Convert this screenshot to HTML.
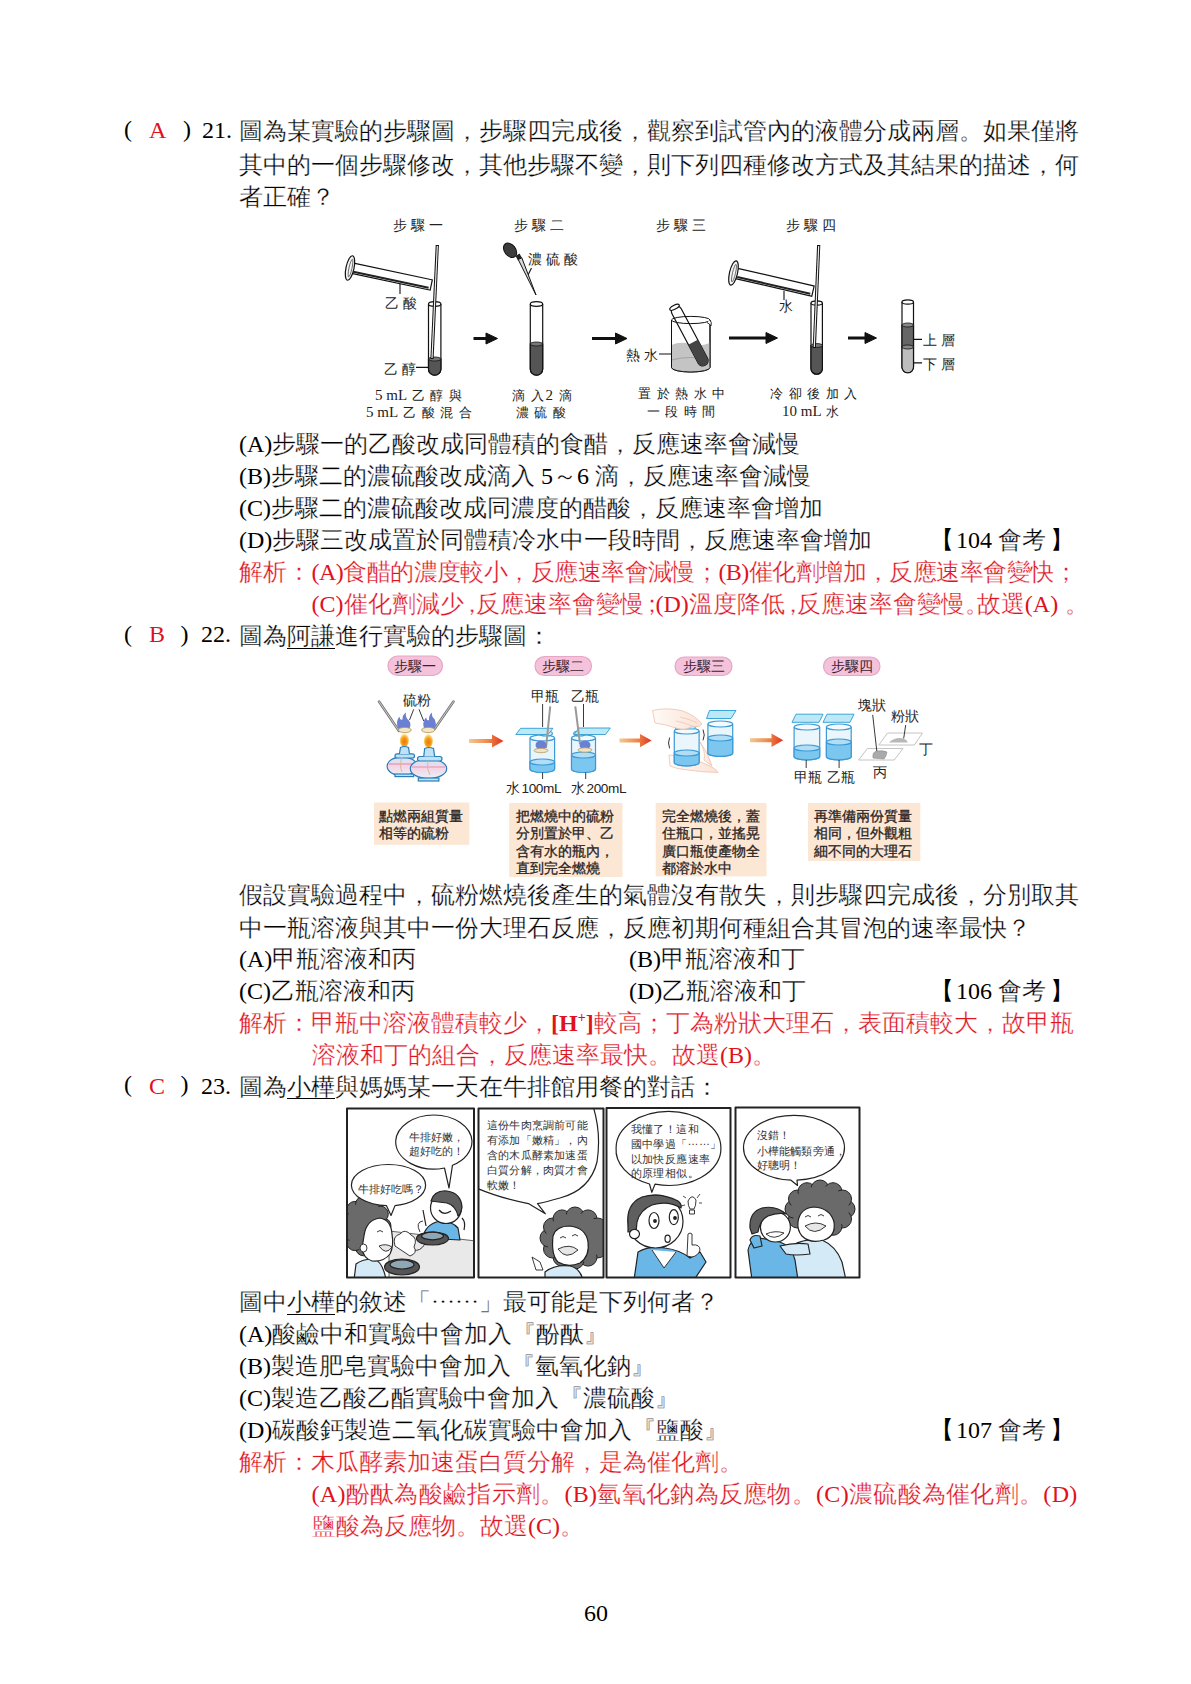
<!DOCTYPE html>
<html lang="zh-Hant">
<head>
<meta charset="utf-8">
<style>
html,body{margin:0;padding:0;background:#fff;}
body{width:1191px;height:1684px;position:relative;overflow:hidden;font-family:"Liberation Serif",serif;color:#000;}
.l{position:absolute;white-space:nowrap;font-size:24px;line-height:32px;height:32px;-webkit-text-stroke:0.3px #fff;}
.lt{-webkit-text-stroke:0;}
.r{color:#e0121e;}
.u{}
.ul{position:absolute;height:1.3px;background:#000;}
.fig{position:absolute;}
.h{display:inline-block;width:12px;text-indent:-3.5px;}
.h0{display:inline-block;width:12px;}
sup{font-size:14px;vertical-align:0;position:relative;top:-9px;line-height:0;}
.md{position:relative;top:-7px;}
</style>
</head>
<body>
<!-- Q21 -->
<div class="l" style="left:124px;top:112.5px;"><span class="lt">(</span></div>
<div class="l r" style="left:149px;top:113.5px;"><span class="lt">A</span></div>
<div class="l" style="left:183px;top:112.5px;"><span class="lt">)</span></div>
<div class="l" style="left:202px;top:113.5px;"><span class="lt">21.</span></div>
<div class="l" style="left:239px;top:115px;">圖為某實驗的步驟圖，步驟四完成後，觀察到試管內的液體分成兩層。如果僅將</div>
<div class="l" style="left:239px;top:149px;">其中的一個步驟修改，其他步驟不變，則下列四種修改方式及其結果的描述，何</div>
<div class="l" style="left:239px;top:181px;">者正確？</div>

<div class="l" style="left:239px;top:428px;"><span class="lt">(A)</span>步驟一的乙酸改成同體積的食醋，反應速率會減慢</div>
<div class="l" style="left:239px;top:460px;"><span class="lt">(B)</span>步驟二的濃硫酸改成滴入 <span class="lt">5</span>～<span class="lt">6 </span>滴，反應速率會減慢</div>
<div class="l" style="left:239px;top:492px;"><span class="lt">(C)</span>步驟二的濃硫酸改成同濃度的醋酸，反應速率會增加</div>
<div class="l" style="left:239px;top:524px;"><span class="lt">(D)</span>步驟三改成置於同體積冷水中一段時間，反應速率會增加</div>
<div class="l" style="left:930px;top:524px;"><span class="lt">【</span></div><div class="l" style="left:956px;top:524px;"><span class="lt">104 </span>會考</div><div class="l" style="left:1050px;top:524px;"><span class="lt">】</span></div>
<div class="l r" style="left:239px;top:556px;">解析：</div>
<div class="l r" style="left:311.5px;top:556px;letter-spacing:-0.55px;"><span class="lt">(A)</span>食醋的濃度較小，反應速率會減慢；<span class="lt">(B)</span>催化劑增加，反應速率會變快；</div>
<div class="l r" style="left:311.5px;top:588px;"><span class="lt">(C)</span>催化劑減少<span class="h">，</span>反應速率會變慢<span class="h">；</span><span class="lt">(D)</span>溫度降低<span class="h">，</span>反應速率會變慢<span class="h0">。</span>故選<span class="lt">(A)</span><span class="h0" style="position:relative;left:7px">。</span></div>

<!-- Q22 -->
<div class="l" style="left:124px;top:617.5px;"><span class="lt">(</span></div>
<div class="l r" style="left:149px;top:618px;"><span class="lt">B</span></div>
<div class="l" style="left:180.5px;top:617.5px;"><span class="lt">)</span></div>
<div class="l" style="left:201px;top:618px;"><span class="lt">22.</span></div>
<div class="l" style="left:239px;top:620px;">圖為<span class="u">阿謙</span>進行實驗的步驟圖：</div>

<div class="l" style="left:239px;top:879px;">假設實驗過程中，硫粉燃燒後產生的氣體沒有散失，則步驟四完成後，分別取其</div>
<div class="l" style="left:239px;top:912px;">中一瓶溶液與其中一份大理石反應，反應初期何種組合其冒泡的速率最快？</div>
<div class="l" style="left:239px;top:943px;"><span class="lt">(A)</span>甲瓶溶液和丙</div>
<div class="l" style="left:629px;top:943px;"><span class="lt">(B)</span>甲瓶溶液和丁</div>
<div class="l" style="left:239px;top:975px;"><span class="lt">(C)</span>乙瓶溶液和丙</div>
<div class="l" style="left:629px;top:975px;"><span class="lt">(D)</span>乙瓶溶液和丁</div>
<div class="l" style="left:930px;top:975px;"><span class="lt">【</span></div><div class="l" style="left:956px;top:975px;"><span class="lt">106 </span>會考</div><div class="l" style="left:1050px;top:975px;"><span class="lt">】</span></div>
<div class="l r" style="left:239px;top:1007px;">解析：甲瓶中溶液體積較少，<b><span class="lt">[H</span><sup><span class="lt">+</span></sup><span class="lt">]</span></b>較高；丁為粉狀大理石，表面積較大，故甲瓶</div>
<div class="l r" style="left:312px;top:1039px;">溶液和丁的組合，反應速率最快。故選<span class="lt">(B)</span>。</div>

<!-- Q23 -->
<div class="l" style="left:124px;top:1068px;"><span class="lt">(</span></div>
<div class="l r" style="left:149px;top:1069.5px;"><span class="lt">C</span></div>
<div class="l" style="left:180.5px;top:1068px;"><span class="lt">)</span></div>
<div class="l" style="left:201px;top:1069.5px;"><span class="lt">23.</span></div>
<div class="l" style="left:239px;top:1071px;">圖為<span class="u">小樺</span>與媽媽某一天在牛排館用餐的對話：</div>

<div class="l" style="left:239px;top:1286px;">圖中<span class="u">小樺</span>的敘述「<span class="md">……</span>」最可能是下列何者？</div>
<div class="l" style="left:239px;top:1318px;"><span class="lt">(A)</span>酸鹼中和實驗中會加入『酚酞』</div>
<div class="l" style="left:239px;top:1350px;"><span class="lt">(B)</span>製造肥皂實驗中會加入『氫氧化鈉』</div>
<div class="l" style="left:239px;top:1382px;"><span class="lt">(C)</span>製造乙酸乙酯實驗中會加入『濃硫酸』</div>
<div class="l" style="left:239px;top:1414px;"><span class="lt">(D)</span>碳酸鈣製造二氧化碳實驗中會加入『鹽酸』</div>
<div class="l" style="left:930px;top:1414px;"><span class="lt">【</span></div><div class="l" style="left:956px;top:1414px;"><span class="lt">107 </span>會考</div><div class="l" style="left:1050px;top:1414px;"><span class="lt">】</span></div>
<div class="l r" style="left:239px;top:1446px;">解析：木瓜酵素加速蛋白質分解，是為催化劑。</div>
<div class="l r" style="left:311.5px;top:1478px;letter-spacing:0.3px;"><span class="lt">(A)</span>酚酞為酸鹼指示劑。<span class="lt">(B)</span>氫氧化鈉為反應物。<span class="lt">(C)</span>濃硫酸為催化劑。<span class="lt">(D)</span></div>
<div class="l r" style="left:312px;top:1510px;">鹽酸為反應物。故選<span class="lt">(C)</span>。</div>

<div class="l" style="left:584px;top:1597px;"><span class="lt">60</span></div>
<div class="ul" style="left:287px;top:647.9px;width:48px"></div>
<div class="ul" style="left:287px;top:1098.2px;width:48px"></div>
<div class="ul" style="left:287px;top:1313.7px;width:48px"></div>
<!-- FIG1 -->
<svg class="fig" style="left:0;top:0" width="1191" height="1684" viewBox="0 0 1191 1684">
<defs>
<marker id="ah" viewBox="0 0 10 10" refX="9" refY="5" markerWidth="4" markerHeight="4" orient="auto"><path d="M0,0 L10,5 L0,10 z" fill="#111"/></marker>
</defs>
<g font-family="Liberation Serif, serif" font-size="13.5" fill="#222" letter-spacing="4">
<text x="393" y="229.5">步驟一</text>
<text x="514" y="229.5">步驟二</text>
<text x="656" y="229.5">步驟三</text>
<text x="786" y="229.5">步驟四</text>
<text x="385" y="307.5">乙酸</text>
<text x="384" y="374">乙醇</text>
<text x="528" y="264">濃硫酸</text>
<text x="626" y="359.5">熱水</text>
<text x="779" y="311" letter-spacing="0">水</text>
<text x="923" y="345">上層</text>
<text x="923" y="368.5">下層</text>
</g>
<g font-family="Liberation Serif, serif" font-size="13.2" fill="#222" letter-spacing="5.6">
<text x="375" y="399.5"><tspan font-size="15" letter-spacing="0">5 mL </tspan><tspan dx="1.5">乙醇與</tspan></text>
<text x="366" y="416.5"><tspan font-size="15" letter-spacing="0">5 mL </tspan><tspan dx="2">乙酸混合</tspan></text>
<text x="512" y="399.5">滴<tspan letter-spacing="2">入</tspan><tspan font-size="15" letter-spacing="0">2</tspan><tspan dx="6">滴</tspan></text>
<text x="515.5" y="416.5">濃硫酸</text>
<text x="638" y="398">置於熱水中</text>
<text x="646.5" y="415.5">一段時間</text>
<text x="770" y="398">冷卻後加入</text>
<text x="782" y="415.5"><tspan font-size="15" letter-spacing="0">10 mL </tspan><tspan dx="1">水</tspan></text>
</g>
<g stroke="#111" stroke-width="1.1" fill="none">
<!-- leader lines -->
<path d="M400,284 V294 M416,367.4 H428 M527.5,276 L531.5,268 M659,354 H673 M784,291 V300 M913,339.4 H922 M913,362.9 H922"/>
</g>
<!-- arrows -->
<g stroke="#111" stroke-width="3" fill="#111">
<path d="M473.5,338.5 H489"/><path d="M486,333 L497.5,338.5 L486,344 z" stroke-width="1"/>
<path d="M592,338.5 H618"/><path d="M615.5,333 L627,338.5 L615.5,344 z" stroke-width="1"/>
<path d="M729,338 H768"/><path d="M766,332.5 L777.5,338 L766,343.5 z" stroke-width="1"/>
<path d="M848,338 H867"/><path d="M865,332.5 L876.5,338 L865,343.5 z" stroke-width="1"/>
</g>
<!-- step1 cylinder -->
<g transform="rotate(12 350 268)">
<rect x="352" y="262.5" width="81" height="10.5" fill="#fff" stroke="#111" stroke-width="1.2"/>
<path d="M354,271 H431" stroke="#222" stroke-width="2"/>
<ellipse cx="350" cy="268" rx="4" ry="12.5" fill="#f4f4f4" stroke="#111" stroke-width="1.2"/>
<ellipse cx="350.5" cy="268" rx="1.5" ry="9" fill="none" stroke="#555" stroke-width="0.8"/>
</g>
<!-- step1 tube -->
<path d="M428.5,304 V369 A6.2,6.2 0 0 0 440.9,369 V304" fill="#fff" stroke="#111" stroke-width="1.2"/>
<path d="M428.5,359 V369 A6.2,6.2 0 0 0 440.9,369 V359 z" fill="#555" stroke="#111" stroke-width="1.2"/>
<ellipse cx="434.7" cy="359" rx="6.2" ry="2" fill="#777" stroke="#111" stroke-width="0.8"/>
<ellipse cx="434.7" cy="304" rx="6.2" ry="2.3" fill="#fff" stroke="#111" stroke-width="1.2"/>
<!-- step1 rod -->
<path d="M437.3,245 L432,359" stroke="#111" stroke-width="3.2"/>
<path d="M437.3,246 L432,358" stroke="#eee" stroke-width="1.2"/>
<!-- step2 dropper -->
<g transform="rotate(-38 511 251.5)">
<ellipse cx="511" cy="250" rx="5.6" ry="8" fill="#3c3c3c" stroke="#111" stroke-width="1"/>
</g>
<path d="M515.5,256 L519.5,253.5 L522,258 L518,260.5 z" fill="#222"/>
<path d="M518.2,259.5 L521.8,257.8 L536,295 z" fill="#d8d8d8" stroke="#111" stroke-width="1" stroke-linejoin="round"/>
<!-- step2 tube -->
<path d="M530.3,304 V369 A6.2,6.2 0 0 0 542.7,369 V304" fill="#fff" stroke="#111" stroke-width="1.2"/>
<path d="M530.3,344 V369 A6.2,6.2 0 0 0 542.7,369 V344 z" fill="#555" stroke="#111" stroke-width="1.2"/>
<ellipse cx="536.5" cy="344" rx="6.2" ry="2" fill="#777" stroke="#111" stroke-width="0.8"/>
<ellipse cx="536.5" cy="304" rx="6.2" ry="2.3" fill="#fff" stroke="#111" stroke-width="1.2"/>
<!-- step3 beaker -->
<path d="M671.5,320 V367.5 A19.25,4.5 0 0 0 710,367.5 V320" fill="#fff" stroke="#111" stroke-width="1"/>
<path d="M671.5,345 Q680,341 690,344 Q700,347 710,343 V367.5 A19.25,4.5 0 0 1 671.5,367.5 z" fill="#c4c4c4"/>
<path d="M671.5,360 Q690,355 710,360" stroke="#999" stroke-width="0.8" fill="none"/>
<path d="M671.5,320 V367.5 A19.25,4.5 0 0 0 710,367.5 V320" fill="none" stroke="#111" stroke-width="1"/>
<ellipse cx="690.75" cy="320" rx="19.25" ry="3.6" fill="none" stroke="#111" stroke-width="1"/>
<path d="M707,322.5 Q710,324 711,326 Q712,322 710,320" stroke="#111" stroke-width="0.9" fill="#fff"/>
<g transform="rotate(-28 690 337)">
<rect x="685" y="303" width="10.5" height="66" rx="5" fill="none" stroke="#111" stroke-width="1.2"/>
<path d="M685,343 H695.5 V364 A5.25,5.25 0 0 1 685,364 z" fill="#444"/>
<ellipse cx="690.25" cy="303.5" rx="5.25" ry="2" fill="#fff" stroke="#111" stroke-width="1.2"/>
</g>
<!-- step4 cylinder -->
<g transform="rotate(13 733.5 273)">
<rect x="736" y="267.5" width="79" height="10.5" fill="#fff" stroke="#111" stroke-width="1.2"/>
<path d="M738,276 H813" stroke="#222" stroke-width="2"/>
<ellipse cx="733.5" cy="273" rx="4" ry="12.5" fill="#f4f4f4" stroke="#111" stroke-width="1.2"/>
<ellipse cx="734" cy="273" rx="1.5" ry="9" fill="none" stroke="#555" stroke-width="0.8"/>
</g>
<!-- step4 tube -->
<path d="M811,303 V368.5 A5.7,5.7 0 0 0 822.4,368.5 V303" fill="#fff" stroke="#111" stroke-width="1.2"/>
<path d="M811,345.5 V368.5 A5.7,5.7 0 0 0 822.4,368.5 V345.5 z" fill="#555" stroke="#111" stroke-width="1.2"/>
<ellipse cx="816.7" cy="345.5" rx="5.7" ry="2" fill="#777" stroke="#111" stroke-width="0.8"/>
<ellipse cx="816.7" cy="303" rx="5.7" ry="2.2" fill="#fff" stroke="#111" stroke-width="1.2"/>
<path d="M818.7,245 L814.3,348" stroke="#111" stroke-width="3.2"/>
<path d="M818.7,246 L814.3,347" stroke="#eee" stroke-width="1.2"/>
<!-- result tube -->
<path d="M902,302 V367 A5.75,5.75 0 0 0 913.5,367 V302" fill="#fff" stroke="#111" stroke-width="1.2"/>
<path d="M902,347 V367 A5.75,5.75 0 0 0 913.5,367 V347 z" fill="#bdbdbd" stroke="#111" stroke-width="1.2"/>
<path d="M902,325 V347 H913.5 V325 z" fill="#666" stroke="#111" stroke-width="1.2"/>
<ellipse cx="907.75" cy="325" rx="5.75" ry="2" fill="#888" stroke="#111" stroke-width="0.8"/>
<ellipse cx="907.75" cy="347" rx="5.75" ry="2" fill="#888" stroke="#111" stroke-width="0.8"/>
<ellipse cx="907.75" cy="302" rx="5.75" ry="2.2" fill="#fff" stroke="#111" stroke-width="1.2"/>
</svg>

<!-- FIG2 -->
<svg class="fig" style="left:0;top:0" width="1191" height="1684" viewBox="0 0 1191 1684">
<defs>
<linearGradient id="arr" x1="0" x2="1" y1="0" y2="0"><stop offset="0" stop-color="#f3c894"/><stop offset="0.55" stop-color="#ec8a4a"/><stop offset="1" stop-color="#e2321e"/></linearGradient>
<linearGradient id="lamp" x1="0" x2="0" y1="0" y2="1"><stop offset="0" stop-color="#cfe9f8"/><stop offset="0.5" stop-color="#f6d4e4"/><stop offset="1" stop-color="#e6f3fb"/></linearGradient>
<radialGradient id="flame" cx="0.5" cy="0.6" r="0.55"><stop offset="0" stop-color="#e8760c"/><stop offset="0.6" stop-color="#f6a21a"/><stop offset="1" stop-color="#fde7a6"/></radialGradient>
<linearGradient id="skin" x1="0" x2="1" y1="0" y2="0"><stop offset="0" stop-color="#fffaf7"/><stop offset="1" stop-color="#fbe2d4"/></linearGradient>
</defs>
<!-- pills -->
<g fill="#f4c2da" stroke="#e7a6c4" stroke-width="1.2">
<rect x="388" y="656" width="54.5" height="19.5" rx="9.75"/>
<rect x="535" y="656.5" width="56.5" height="19" rx="9.5"/>
<rect x="675" y="657" width="57" height="18.5" rx="9.25"/>
<rect x="823.5" y="657" width="56.5" height="18.5" rx="9.25"/>
</g>
<g font-family="Liberation Sans, sans-serif" font-size="13.5" fill="#3a2230">
<text x="393.5" y="670.5">步驟一</text>
<text x="541.5" y="670.8">步驟二</text>
<text x="683" y="671">步驟三</text>
<text x="831" y="671">步驟四</text>
</g>
<!-- beige boxes -->
<g fill="#fbe7d4">
<rect x="374" y="802.5" width="95.3" height="42.3"/>
<rect x="509.2" y="803" width="113.3" height="74"/>
<rect x="655.7" y="803" width="110.8" height="73.4"/>
<rect x="808" y="803" width="112.3" height="58"/>
</g>
<g font-family="Liberation Sans, sans-serif" font-size="14.2" fill="#2a241f" stroke="#2a241f" stroke-width="0.3">
<text x="379" y="820.5">點燃兩組質量</text>
<text x="379" y="838">相等的硫粉</text>
<text x="515.5" y="820.8">把燃燒中的硫粉</text>
<text x="515.5" y="838.3">分別置於甲、乙</text>
<text x="515.5" y="855.8">含有水的瓶內，</text>
<text x="515.5" y="873.3">直到完全燃燒</text>
<text x="661.5" y="820.8">完全燃燒後，蓋</text>
<text x="661.5" y="838.3">住瓶口，並搖晃</text>
<text x="661.5" y="855.8">廣口瓶使產物全</text>
<text x="661.5" y="873.3">都溶於水中</text>
<text x="814" y="820.8">再準備兩份質量</text>
<text x="814" y="838.3">相同，但外觀粗</text>
<text x="814" y="855.8">細不同的大理石</text>
</g>
<!-- labels -->
<g font-family="Liberation Sans, sans-serif" font-size="14" fill="#222">
<text x="403" y="704.5">硫粉</text>
<text x="530.5" y="700.5">甲瓶</text>
<text x="571" y="700.5">乙瓶</text>
<text x="506" y="792.5">水<tspan font-size="13.6" dx="1.5" letter-spacing="-0.4">100mL</tspan></text>
<text x="571" y="792.5">水<tspan font-size="13.6" dx="1.5" letter-spacing="-0.4">200mL</tspan></text>
<text x="794" y="781.5">甲瓶</text>
<text x="826.5" y="781.5">乙瓶</text>
<text x="858" y="709.5">塊狀</text>
<text x="890.5" y="720.5">粉狀</text>
<text x="919" y="754">丁</text>
<text x="873" y="777">丙</text>
</g>
<!-- arrows -->
<g fill="url(#arr)">
<path d="M469,739 H492 V734.5 L503.5,741 L492,747.5 V743 H469 z"/>
<path d="M619.5,738.6 H640 V734 L651.6,740.6 L640,747.2 V742.6 H619.5 z"/>
<path d="M750,738.3 H771.5 V733.6 L783.2,740.3 L771.5,747 V742.3 H750 z"/>
</g>
<!-- step1 spoons and lamps -->
<g stroke-linecap="round">
<path d="M379,701.5 L399,731" stroke="#777" stroke-width="2.6"/>
<path d="M379,701.5 L399,731" stroke="#ccc" stroke-width="1"/>
<path d="M453.5,701.5 L434.5,729" stroke="#777" stroke-width="2.6"/>
<path d="M453.5,701.5 L434.5,729" stroke="#ccc" stroke-width="1"/>
</g>
<path d="M398,728.5 Q395.5,721 399.5,716.5 Q400,720.5 402.5,719.5 Q402,715 406,712.5 Q405,717.5 409,720.5 Q411.5,724.5 409.5,728.5 z" fill="#6b80d2"/>
<path d="M424,728.5 Q422,722 426,717.5 Q427,721 429,720 Q428.5,715.5 432,712.5 Q431.5,717 434.5,719 Q437,724 435,728.5 z" fill="#6b80d2"/>
<ellipse cx="404.8" cy="730" rx="6.4" ry="2.6" fill="#f1e6c8" stroke="#b89a60" stroke-width="0.9"/>
<ellipse cx="428.2" cy="730" rx="6.6" ry="2.6" fill="#f1e6c8" stroke="#b89a60" stroke-width="0.9"/>
<path d="M413.7,709.3 L409.5,720 M419,709.3 L423.7,721" stroke="#222" stroke-width="0.9"/>
<ellipse cx="404.4" cy="740.3" rx="4.6" ry="6.8" fill="url(#flame)"/>
<ellipse cx="428.4" cy="740.8" rx="4.6" ry="6.8" fill="url(#flame)"/>
<!-- lamp1 -->
<g stroke="#2b7db9" stroke-width="1.2">
<ellipse cx="402.1" cy="766.3" rx="15" ry="9.5" fill="url(#lamp)"/>
<rect x="395" y="774" width="18.7" height="2.6" fill="#bfe2f6"/>
<rect x="395" y="753.8" width="19.5" height="4.2" rx="2" fill="#bfe2f6"/>
<path d="M399.4,754 L400.5,747.5 Q404.5,745.5 408.5,747.5 L409.5,754" fill="#bfe2f6"/>
</g>
<path d="M389,764 H415" stroke="#e58fb4" stroke-width="1.2"/>
<!-- lamp2 -->
<g stroke="#2b7db9" stroke-width="1.2">
<ellipse cx="428.5" cy="768.7" rx="18.2" ry="9.8" fill="url(#lamp)"/>
<rect x="418.3" y="778" width="20.6" height="3" fill="#bfe2f6"/>
<rect x="417.5" y="756.5" width="24.5" height="4.5" rx="2.2" fill="#bfe2f6"/>
<path d="M423.7,756.6 L424.7,748.5 Q429,746.5 433.5,748.5 L434.7,756.6" fill="#bfe2f6"/>
</g>
<path d="M412,767 H445" stroke="#e58fb4" stroke-width="1.2"/>
<path d="M402,757 Q399,766 402,772 M428,761 Q426,768 430,775" stroke="#d8b8a0" stroke-width="1" fill="none"/>
<!-- jars generic -->
<g stroke="#3b9ad6" stroke-width="1.2">
<!-- step2 jar1 -->
<path d="M530,738 V769 A12.3,3.5 0 0 0 554.6,769 V738" fill="#e8f5fc"/>
<path d="M530,762 V769 A12.3,3.5 0 0 0 554.6,769 V762 z" fill="#7cc7ef"/>
<ellipse cx="542.3" cy="762" rx="12.3" ry="3" fill="#b2def5"/>
<ellipse cx="542.3" cy="738" rx="12.3" ry="3" fill="#f2fafe"/>
<ellipse cx="545.9" cy="733.5" rx="6.5" ry="2.5" fill="#d6eef9"/>
<!-- step2 jar2 -->
<path d="M571.5,738 V769 A12,3.5 0 0 0 595.5,769 V738" fill="#e8f5fc"/>
<path d="M571.5,755 V769 A12,3.5 0 0 0 595.5,769 V755 z" fill="#7cc7ef"/>
<ellipse cx="583.5" cy="755" rx="12" ry="3" fill="#b2def5"/>
<ellipse cx="583.5" cy="738" rx="12" ry="3" fill="#f2fafe"/>
<ellipse cx="579.7" cy="733.5" rx="6" ry="2.5" fill="#d6eef9"/>
</g>
<!-- plates step2 -->
<g fill="#bfe8f7" stroke="#3aa6da" stroke-width="1">
<path d="M520.7,728.3 H553 L548,734.5 H515.8 z"/>
<path d="M579,728 H610.3 L605.5,734.5 H574.2 z"/>
</g>
<!-- spoons in jars -->
<path d="M550.2,706.3 L546,748 M575.3,706.3 L580,744" stroke="#999" stroke-width="2" fill="none"/>
<ellipse cx="541" cy="745" rx="5.5" ry="4.5" fill="#6b80d2"/>
<ellipse cx="541" cy="750.5" rx="7" ry="2.2" fill="#efe4c8" stroke="#b89a60" stroke-width="0.8"/>
<ellipse cx="585" cy="745" rx="5.5" ry="4.5" fill="#6b80d2"/>
<ellipse cx="585" cy="750" rx="7" ry="2.2" fill="#efe4c8" stroke="#b89a60" stroke-width="0.8"/>
<path d="M542.6,704 V727 M583.5,704 V727 M542.6,772.5 V779 M585.7,772.5 V779" stroke="#222" stroke-width="0.9"/>
<!-- step3 hands & jars -->
<path d="M669,755 Q690,757 703,763 Q716,768 718,772.5 Q700,772 688,770 Q676,769 670,766 z" fill="url(#skin)" stroke="#ebc3b0" stroke-width="0.8"/>
<path d="M700,742 Q706,752 704,760 L712,766 Q708,752 700,742 z" fill="url(#skin)" stroke="#ebc3b0" stroke-width="0.8"/>
<g stroke="#3b9ad6" stroke-width="1.2">
<path d="M674.3,731 V762.5 A12.4,3.4 0 0 0 699.1,762.5 V731" fill="#eaf6fc"/>
<path d="M674.3,753 V762.5 A12.4,3.4 0 0 0 699.1,762.5 V753 z" fill="#7cc7ef"/>
<ellipse cx="686.7" cy="753" rx="12.4" ry="3" fill="#b2def5"/>
<ellipse cx="686.7" cy="731" rx="12.4" ry="3" fill="#f2fafe"/>
<path d="M707.9,724 V753 A12.4,3.4 0 0 0 732.7,753 V724" fill="#eaf6fc"/>
<path d="M707.9,738 V753 A12.4,3.4 0 0 0 732.7,753 V738 z" fill="#7cc7ef"/>
<ellipse cx="720.3" cy="738" rx="12.4" ry="3" fill="#b2def5"/>
<ellipse cx="720.3" cy="724" rx="12.4" ry="3" fill="#f2fafe"/>
</g>
<path d="M673,725.5 H697 L694,729 H676 z" fill="#bfe8f7" stroke="#3aa6da" stroke-width="0.9"/>
<path d="M652.5,710.5 Q668,707 683,711 Q696,716 702,724 Q699,728 692,726 Q686,731 676,728 Q664,724 655,723 z" fill="url(#skin)" stroke="#ebc3b0" stroke-width="0.8"/>
<path d="M680,717 Q690,719 697,723 M676,721 Q686,723 692,726" stroke="#ebc3b0" stroke-width="0.7" fill="none"/>
<path d="M709.5,710.5 H736 L731,718.5 H706.5 z" fill="#bfe8f7" stroke="#3aa6da" stroke-width="1"/>
<path d="M669.6,737.6 Q667.5,743 669.6,748.4 M703,729.6 Q705.5,735 703,740.3" stroke="#333" stroke-width="1" fill="none"/>
<!-- step4 jars -->
<g stroke="#3b9ad6" stroke-width="1.2">
<path d="M794.1,727 V756.5 A12.8,3.4 0 0 0 819.7,756.5 V727" fill="#eaf6fc"/>
<path d="M794.1,748 V756.5 A12.8,3.4 0 0 0 819.7,756.5 V748 z" fill="#7cc7ef"/>
<ellipse cx="806.9" cy="748" rx="12.8" ry="3" fill="#b2def5"/>
<ellipse cx="806.9" cy="727" rx="12.8" ry="3" fill="#f2fafe"/>
<path d="M826.4,727 V756.5 A12.4,3.4 0 0 0 851.2,756.5 V727" fill="#eaf6fc"/>
<path d="M826.4,742 V756.5 A12.4,3.4 0 0 0 851.2,756.5 V742 z" fill="#7cc7ef"/>
<ellipse cx="838.8" cy="742" rx="12.4" ry="3" fill="#b2def5"/>
<ellipse cx="838.8" cy="727" rx="12.4" ry="3" fill="#f2fafe"/>
</g>
<g fill="#bfe8f7" stroke="#3aa6da" stroke-width="1">
<path d="M796,714.2 H823 L819,722.3 H792 z"/>
<path d="M827,714.2 H854 L850,722.3 H823 z"/>
</g>
<path d="M806.2,760 V768 M839.1,760 V768" stroke="#222" stroke-width="0.9"/>
<!-- marble plates -->
<g fill="#fff" stroke="#c4c4c4" stroke-width="1">
<path d="M887.5,733 H922.5 L914.4,745 H878.8 z"/>
<path d="M867.4,748.5 H903 L894.2,760 H858.6 z"/>
</g>
<path d="M873,758 Q872,752 877,751 Q883,750 887,752 Q886,757 884,759 z" fill="#aaa" stroke="#888" stroke-width="0.6"/>
<path d="M889,742.5 Q893,738 900,738 Q907,738.5 907.7,742.5 z" fill="#b8b8b8"/>
<path d="M872.7,714.9 L876.8,751 M905.7,725 L903.7,738.4" stroke="#222" stroke-width="0.9"/>
</svg>

<!-- FIG3 -->
<svg class="fig" style="left:0;top:0" width="1191" height="1684" viewBox="0 0 1191 1684">
<defs>
<clipPath id="p1"><rect x="347" y="1108.5" width="127" height="169"/></clipPath>
<clipPath id="p2"><rect x="478.5" y="1108.5" width="125" height="169"/></clipPath>
<clipPath id="p3"><rect x="606.5" y="1108" width="124" height="169.5"/></clipPath>
<clipPath id="p4"><rect x="735.5" y="1107.5" width="124" height="170"/></clipPath>
</defs>
<g stroke="#222" stroke-width="1.2" stroke-linejoin="round">
<!-- PANEL 1 -->
<g clip-path="url(#p1)">
<rect x="346" y="1107" width="130" height="172" fill="#fff" stroke="none"/>
<!-- table -->
<path d="M389,1231 L476,1241 V1280 H389 z" fill="#e9e9e9" stroke="#555" stroke-width="0.9"/>
<!-- boy -->
<path d="M423,1238 Q425,1224 440,1221 Q452,1221 458,1228 L460,1240 z" fill="#6ab6e6"/>
<circle cx="446" cy="1208" r="15.5" fill="#fff"/>
<path d="M431,1201 Q434,1190 447,1191 Q461,1193 462,1207 Q461,1214 458,1216 Q456,1206 447,1203 Q438,1202 431,1201 z" fill="#5f5f5f"/>
<path d="M439,1210 Q444,1216 451,1211" fill="#fff"/>
<path d="M423,1210 L426,1226 M462,1218 Q466,1222 464,1230" fill="none"/>
<!-- plates -->
<ellipse cx="432.5" cy="1238.5" rx="16" ry="6.5" fill="#555"/>
<ellipse cx="432.5" cy="1236" rx="11" ry="3.8" fill="#8fa6b5"/>
<path d="M420,1232 Q415,1222 423,1221 M425,1244 Q420,1252 413,1250" fill="none" stroke-width="0.9"/>
<!-- steam -->
<path d="M395,1246 Q392,1236 400,1234 Q405,1228 411,1235 Q418,1238 414,1247 Q418,1253 410,1256 z" fill="#fff" stroke-width="0.9"/>
<ellipse cx="402" cy="1267" rx="17.5" ry="8" fill="#555"/>
<ellipse cx="402" cy="1264.5" rx="12" ry="4.5" fill="#8fa6b5"/>
<!-- mom left -->
<g fill="#6a6a6a" stroke="#222" stroke-width="1"><circle cx="383.0" cy="1226.0" r="8.0"/><circle cx="380.3" cy="1237.9" r="8.0"/><circle cx="373.1" cy="1246.0" r="8.0"/><circle cx="363.6" cy="1247.8" r="8.0"/><circle cx="354.9" cy="1242.6" r="8.0"/><circle cx="349.7" cy="1232.2" r="8.0"/><circle cx="349.7" cy="1219.8" r="8.0"/><circle cx="354.9" cy="1209.4" r="8.0"/><circle cx="363.6" cy="1204.2" r="8.0"/><circle cx="373.1" cy="1206.0" r="8.0"/><circle cx="380.3" cy="1214.1" r="8.0"/></g><ellipse cx="366" cy="1226" rx="20" ry="25" fill="#6a6a6a" stroke="none"/><path d="M356,1264 Q362,1259 374,1259 Q383,1262 386,1280 H354 z" fill="#d5eaf7"/><path d="M364,1236 Q366,1220 380,1218 Q391,1220 392,1234 Q394,1246 390,1254 Q384,1262 372,1261 Q363,1258 362,1248 z" fill="#fff"/><path d="M379,1246 Q386,1256 392,1247 Q386,1243 379,1246 z" fill="#e6e6e6" stroke-width="0.9"/><path d="M377,1232 Q380,1229 383,1232" fill="none" stroke-width="0.9"/><ellipse cx="363.5" cy="1248" rx="3.5" ry="4" fill="#fff" stroke-width="0.9"/>
<!-- bubbles -->
<path d="M395.7,1141 A38.2,27.4 0 0 1 472,1141 A38.2,27.4 0 0 1 452.5,1165.2 L449,1188 L444.5,1168 A38.2,27.4 0 0 1 395.7,1141 z" fill="#fff"/>
<path d="M351.4,1185.2 A37.1,20.7 0 0 1 425.6,1185.2 A37.1,20.7 0 0 1 395,1205.6 L391,1215.5 L386.5,1205.7 A37.1,20.7 0 0 1 351.4,1185.2 z" fill="#fff"/>
</g>
<rect x="347" y="1108.5" width="127" height="169" fill="none" stroke-width="2"/>
<!-- PANEL 2 -->
<g clip-path="url(#p2)">
<rect x="478" y="1108" width="127" height="171" fill="#fff" stroke="none"/>
<path d="M472,1100 H591 Q602,1130 597,1162 Q590,1190 560,1198 Q546,1202 537.5,1203.6 L545.4,1213.8 L528.4,1203.6 Q500,1198 478.5,1188.9 L472,1185 z" fill="#fff"/>
<!-- mom -->
<g fill="#6a6a6a" stroke="#222" stroke-width="1"><circle cx="601.0" cy="1238.0" r="9.0"/><circle cx="597.5" cy="1249.0" r="9.0"/><circle cx="588.0" cy="1257.1" r="9.0"/><circle cx="575.0" cy="1260.0" r="9.0"/><circle cx="562.0" cy="1257.1" r="9.0"/><circle cx="552.5" cy="1249.0" r="9.0"/><circle cx="549.0" cy="1238.0" r="9.0"/><circle cx="552.5" cy="1227.0" r="9.0"/><circle cx="562.0" cy="1218.9" r="9.0"/><circle cx="575.0" cy="1216.0" r="9.0"/><circle cx="588.0" cy="1218.9" r="9.0"/><circle cx="597.5" cy="1227.0" r="9.0"/></g><ellipse cx="575" cy="1238" rx="29" ry="25" fill="#6a6a6a" stroke="none"/><path d="M545,1272 Q555,1264 570,1266 Q580,1268 583,1280 H545 z" fill="#d5eaf7"/><path d="M553,1236 Q556,1226 570,1226 Q586,1228 588,1242 Q590,1256 580,1263 Q568,1268 558,1262 Q551,1255 553,1236 z" fill="#fff"/><path d="M558,1249 Q566,1261 578,1250 Q570,1243 558,1249 z" fill="#e6e6e6" stroke-width="0.9"/><path d="M560,1238 Q563,1235 566,1238 M572,1236 Q575,1233 578,1236" fill="none" stroke-width="0.9"/><path d="M532,1257 L540,1262 L543,1270 L536,1270 z" fill="#fff" stroke-width="0.9"/>
</g>
<rect x="478.5" y="1108.5" width="125" height="169" fill="none" stroke-width="2"/>
<!-- PANEL 3 -->
<g clip-path="url(#p3)">
<rect x="606" y="1107" width="126" height="172" fill="#fff" stroke="none"/>
<path d="M616.1,1147.8 A52.4,36.5 0 0 1 720.9,1147.8 A52.4,36.5 0 0 1 655,1184.1 L651.8,1192.3 L649.5,1184 A52.4,36.5 0 0 1 616.1,1147.8 z" fill="#fff"/>
<path d="M638,1252 Q650,1245 665,1248 Q680,1250 690,1258 L700,1252 L706,1262 L694,1280 H634 z" fill="#6ab6e6"/>
<path d="M652,1250 L664,1268 L676,1252" fill="#fff" stroke-width="0.9"/>
<ellipse cx="655.5" cy="1221.5" rx="27.5" ry="26.5" fill="#fff"/>
<path d="M628,1224 Q626,1204 642,1197 Q660,1192 678,1201 Q682,1204 681,1208 Q668,1200 652,1205 Q640,1210 637,1222 L636,1232 L628,1232 z" fill="#5f5f5f"/>
<ellipse cx="634.5" cy="1234" rx="5" ry="4.6" fill="#fff"/>
<ellipse cx="654" cy="1220.5" rx="5" ry="8" fill="#fff"/>
<ellipse cx="673.8" cy="1217.2" rx="4.5" ry="7.5" fill="#fff"/>
<circle cx="655" cy="1221" r="1.3" fill="#222"/><circle cx="675" cy="1218" r="1.3" fill="#222"/>
<ellipse cx="667.6" cy="1238.8" rx="2.6" ry="3.6" fill="#fff"/>
<path d="M687,1256 L688,1234 Q690,1232 692,1234 L692,1245 Q700,1244 700,1250 Q698,1256 692,1257 z" fill="#fff" stroke-width="0.9"/>
<path d="M688,1201 Q692,1193 696,1200 Q696,1206 694,1209 H690 Q688,1206 688,1201 z M689.5,1210 H694.5 V1214 H689.5 z" fill="#fff" stroke-width="0.9"/>
<path d="M683,1196 L686,1198 M700,1194 L697,1198 M702,1203 L699,1203 M681,1206 L685,1205" fill="none" stroke-width="0.8"/>
</g>
<rect x="606.5" y="1108" width="124" height="169.5" fill="none" stroke-width="2"/>
<!-- PANEL 4 -->
<g clip-path="url(#p4)">
<rect x="735" y="1106" width="126" height="173" fill="#fff" stroke="none"/>
<path d="M743.5,1147.8 A50.5,32.5 0 0 1 844.5,1147.8 A50.5,32.5 0 0 1 797,1180.2 L797.5,1185.5 L791,1180.2 A50.5,32.5 0 0 1 743.5,1147.8 z" fill="#fff"/>
<!-- mom -->
<path d="M793,1245 Q805,1238 822,1240 Q836,1246 842,1262 L846,1280 H790 z" fill="#d5eaf7"/><g fill="#6a6a6a" stroke="#222" stroke-width="1"><circle cx="846.0" cy="1209.0" r="9.0"/><circle cx="842.5" cy="1219.0" r="9.0"/><circle cx="833.0" cy="1226.3" r="9.0"/><circle cx="820.0" cy="1229.0" r="9.0"/><circle cx="807.0" cy="1226.3" r="9.0"/><circle cx="797.5" cy="1219.0" r="9.0"/><circle cx="794.0" cy="1209.0" r="9.0"/><circle cx="797.5" cy="1199.0" r="9.0"/><circle cx="807.0" cy="1191.7" r="9.0"/><circle cx="820.0" cy="1189.0" r="9.0"/><circle cx="833.0" cy="1191.7" r="9.0"/><circle cx="842.5" cy="1199.0" r="9.0"/></g><ellipse cx="820" cy="1209" rx="29" ry="23" fill="#6a6a6a" stroke="none"/><path d="M798,1222 Q800,1208 814,1207 Q830,1208 834,1222 Q836,1236 824,1240 Q810,1244 802,1236 Q797,1230 798,1222 z" fill="#fff"/><path d="M805,1226 Q814,1237 826,1226 Q816,1220 805,1226 z" fill="#e6e6e6" stroke-width="0.9"/><path d="M805,1217 Q808,1214 811,1217 M818,1216 Q821,1213 824,1216" fill="none" stroke-width="0.9"/>
<!-- boy -->
<path d="M748,1250 Q750,1240 760,1238 L780,1242 Q792,1246 795,1260 L798,1280 H752 z" fill="#6ab6e6"/>
<path d="M780,1246 Q795,1242 808,1244 L810,1254 Q795,1256 786,1254 z" fill="#d5eaf7"/>
<circle cx="775.4" cy="1227" r="15" fill="#fff"/>
<path d="M750,1228 Q749,1212 762,1208 Q776,1205 786,1214 Q778,1212 768,1216 Q760,1220 758,1232 L752,1234 z" fill="#5f5f5f"/>
<path d="M766,1234 Q774,1241 784,1233 Q775,1230 766,1234 z" fill="#fff" stroke-width="0.9"/>
<path d="M750,1240 Q752,1234 760,1236 L762,1246 L754,1248 z" fill="#6ab6e6"/>
</g>
<rect x="735.5" y="1107.5" width="124" height="170" fill="none" stroke-width="2"/>
</g>
<!-- comic texts -->
<g font-family="Liberation Sans, sans-serif" font-size="11" fill="#333">
<text x="408.5" y="1141">牛排好嫩，</text>
<text x="408.5" y="1155.3">超好吃的！</text>
<text x="358" y="1192.5">牛排好吃嗎？</text>
<text x="487" y="1129.2" letter-spacing="0.2">這份牛肉烹調前可能</text>
<text x="487" y="1144" letter-spacing="0.2">有添加「嫩精」，內</text>
<text x="487" y="1159.2" letter-spacing="0.2">含的木瓜酵素加速蛋</text>
<text x="487" y="1174.4" letter-spacing="0.2">白質分解，肉質才會</text>
<text x="487" y="1189.3" letter-spacing="0.2">軟嫩！</text>
<text x="630.8" y="1132.6" letter-spacing="0.35">我懂了！這和</text>
<text x="630.8" y="1147.8" letter-spacing="0.35">國中學過「<tspan dy="-3">……</tspan><tspan dy="3">」</tspan></text>
<text x="630.8" y="1162.6" letter-spacing="0.35">以加快反應速率</text>
<text x="630.8" y="1177.4" letter-spacing="0.35">的原理相似。</text>
<text x="756.6" y="1139.4" letter-spacing="0.2">沒錯！</text>
<text x="756.6" y="1155.3" letter-spacing="0.2">小樺能觸類旁通，</text>
<text x="756.6" y="1169.4" letter-spacing="0.2">好聰明！</text>
</g>
</svg>

</body>
</html>
